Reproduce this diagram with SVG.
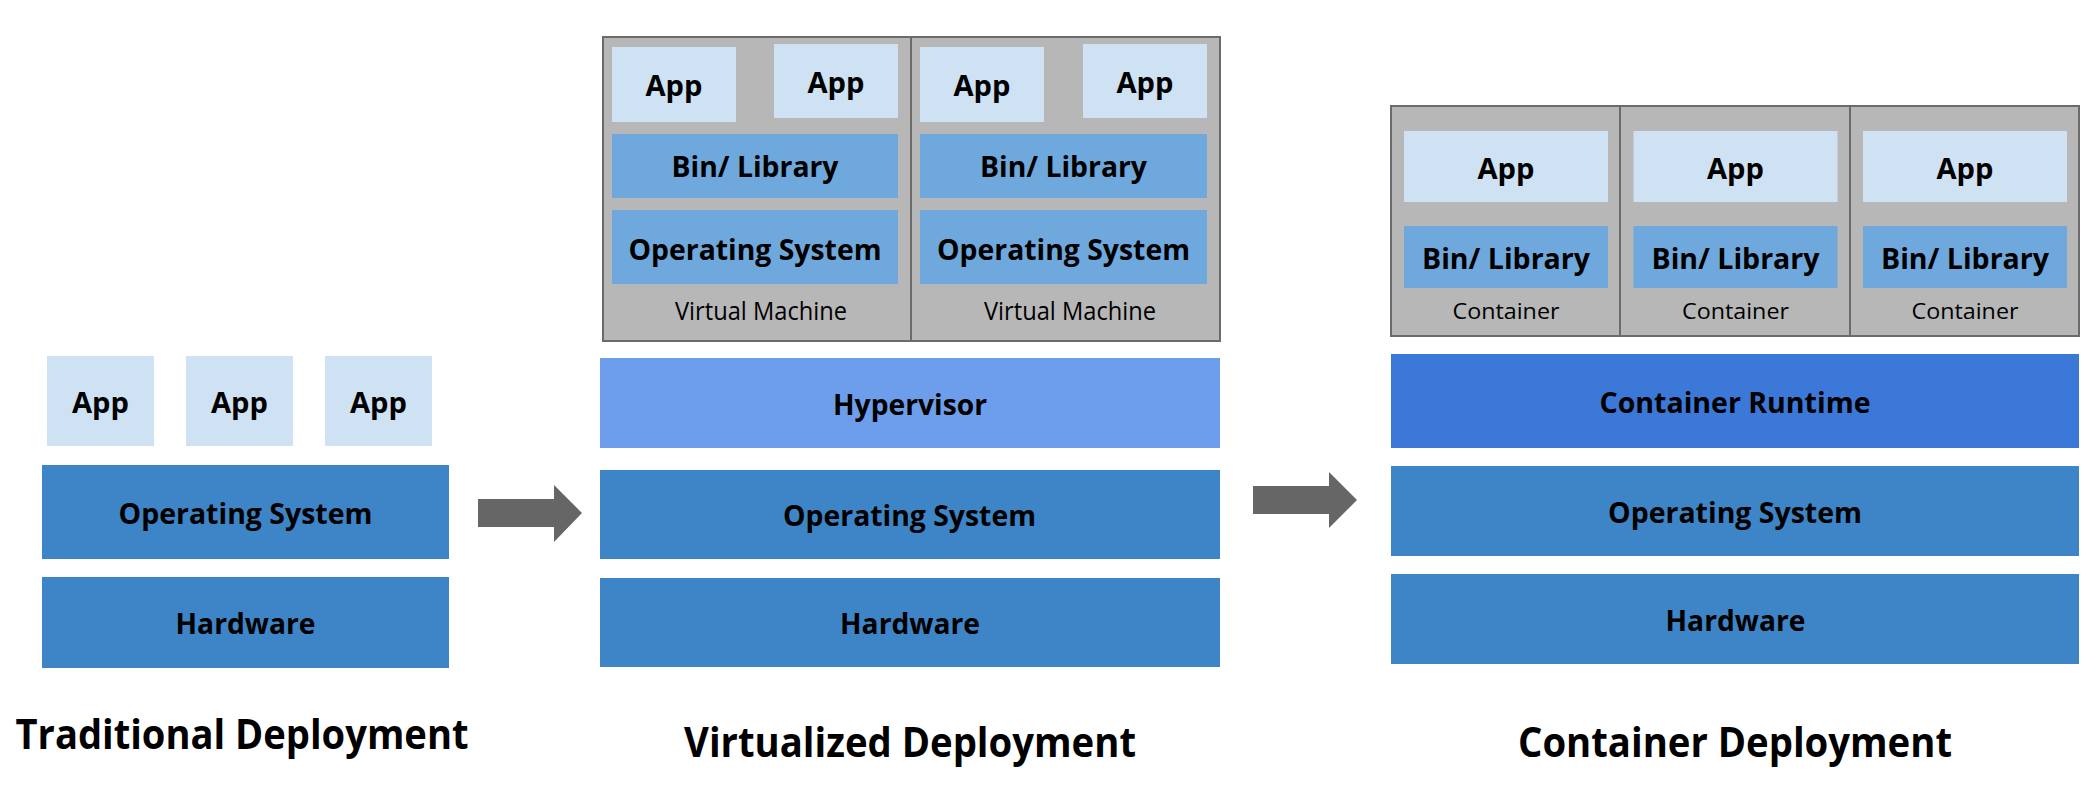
<svg xmlns="http://www.w3.org/2000/svg" width="2099" height="799" viewBox="0 0 2099 799">
<style>
text{font-family:"Open Sans","Noto Sans","Liberation Sans",sans-serif;fill:#000;text-anchor:middle}
.lbl{font-size:29px;font-weight:bold}
.cap{font-size:41px;font-weight:bold}
.sm{font-size:25px;font-weight:normal}
.app{fill:#cfe2f3}
.os{fill:#3d85c6}
.lib{fill:#6fa8dc}
.hyp{fill:#6d9eeb}
.rt{fill:#3c78d8}
.box{fill:#b7b7b7;stroke:#6b6b6b;stroke-width:2}
.arrow{fill:#666666}
</style>
<rect width="2099" height="799" fill="#ffffff"/>

<!-- Traditional Deployment -->
<g id="trad-app1"><rect class="app" x="47" y="356" width="107" height="90"/><text class="lbl" x="100.5" y="413" textLength="57" lengthAdjust="spacingAndGlyphs">App</text></g>
<g id="trad-app2"><rect class="app" x="186" y="356" width="107" height="90"/><text class="lbl" x="239.5" y="413" textLength="57" lengthAdjust="spacingAndGlyphs">App</text></g>
<g id="trad-app3"><rect class="app" x="325" y="356" width="107" height="90"/><text class="lbl" x="378.5" y="413" textLength="57" lengthAdjust="spacingAndGlyphs">App</text></g>
<g id="trad-os"><rect class="os" x="42" y="465" width="407" height="94"/><text class="lbl" x="245.5" y="524" textLength="254" lengthAdjust="spacingAndGlyphs">Operating System</text></g>
<g id="trad-hw"><rect class="os" x="42" y="577" width="407" height="91"/><text class="lbl" x="245.5" y="634" textLength="140" lengthAdjust="spacingAndGlyphs">Hardware</text></g>
<g id="trad-caption"><text class="cap" x="242" y="749" textLength="453" lengthAdjust="spacingAndGlyphs">Traditional Deployment</text></g>

<!-- Virtualized Deployment -->
<g id="vm1">
<rect class="box" x="603" y="37" width="308" height="304"/>
<rect class="app" x="612" y="47" width="124" height="75"/><text class="lbl" x="674" y="96" textLength="57" lengthAdjust="spacingAndGlyphs">App</text>
<rect class="app" x="774" y="44" width="124" height="74"/><text class="lbl" x="836" y="93" textLength="57" lengthAdjust="spacingAndGlyphs">App</text>
<rect class="lib" x="612" y="134" width="286" height="64"/><text class="lbl" x="755" y="177" textLength="167" lengthAdjust="spacingAndGlyphs">Bin/ Library</text>
<rect class="lib" x="612" y="210" width="286" height="74"/><text class="lbl" x="755" y="259.5" textLength="253" lengthAdjust="spacingAndGlyphs">Operating System</text>
<text class="sm" x="761" y="320" textLength="172" lengthAdjust="spacingAndGlyphs">Virtual Machine</text>
</g>
<g id="vm2">
<rect class="box" x="911" y="37" width="309" height="304"/>
<rect class="app" x="920" y="47" width="124" height="75"/><text class="lbl" x="982" y="96" textLength="57" lengthAdjust="spacingAndGlyphs">App</text>
<rect class="app" x="1083" y="44" width="124" height="74"/><text class="lbl" x="1145" y="93" textLength="57" lengthAdjust="spacingAndGlyphs">App</text>
<rect class="lib" x="920" y="134" width="287" height="64"/><text class="lbl" x="1063.5" y="177" textLength="167" lengthAdjust="spacingAndGlyphs">Bin/ Library</text>
<rect class="lib" x="920" y="210" width="287" height="74"/><text class="lbl" x="1063.5" y="259.5" textLength="253" lengthAdjust="spacingAndGlyphs">Operating System</text>
<text class="sm" x="1070" y="320" textLength="172" lengthAdjust="spacingAndGlyphs">Virtual Machine</text>
</g>
<g id="virt-hypervisor"><rect class="hyp" x="600" y="358" width="620" height="90"/><text class="lbl" x="910" y="415" textLength="154" lengthAdjust="spacingAndGlyphs">Hypervisor</text></g>
<g id="virt-os"><rect class="os" x="600" y="470" width="620" height="89"/><text class="lbl" x="909.5" y="526" textLength="253" lengthAdjust="spacingAndGlyphs">Operating System</text></g>
<g id="virt-hw"><rect class="os" x="600" y="578" width="620" height="89"/><text class="lbl" x="910" y="634" textLength="140" lengthAdjust="spacingAndGlyphs">Hardware</text></g>
<g id="virt-caption"><text class="cap" x="910" y="757" textLength="452" lengthAdjust="spacingAndGlyphs">Virtualized Deployment</text></g>

<!-- Container Deployment -->
<g id="ctr1">
<rect class="box" x="1391" y="106" width="229" height="230"/>
<rect class="app" x="1404" y="131" width="204" height="71"/><text class="lbl" x="1506" y="179" textLength="57" lengthAdjust="spacingAndGlyphs">App</text>
<rect class="lib" x="1404" y="226" width="204" height="62"/><text class="lbl" x="1506" y="269" textLength="168" lengthAdjust="spacingAndGlyphs">Bin/ Library</text>
<text class="sm" x="1506" y="319" font-size="22" style="font-size:22px" textLength="107" lengthAdjust="spacingAndGlyphs">Container</text>
</g>
<g id="ctr2">
<rect class="box" x="1620" y="106" width="230" height="230"/>
<rect class="app" x="1633.5" y="131" width="204" height="71"/><text class="lbl" x="1735.5" y="179" textLength="57" lengthAdjust="spacingAndGlyphs">App</text>
<rect class="lib" x="1633.5" y="226" width="204" height="62"/><text class="lbl" x="1735.5" y="269" textLength="168" lengthAdjust="spacingAndGlyphs">Bin/ Library</text>
<text class="sm" x="1735.5" y="319" style="font-size:22px" textLength="107" lengthAdjust="spacingAndGlyphs">Container</text>
</g>
<g id="ctr3">
<rect class="box" x="1850" y="106" width="229" height="230"/>
<rect class="app" x="1863" y="131" width="204" height="71"/><text class="lbl" x="1965" y="179" textLength="57" lengthAdjust="spacingAndGlyphs">App</text>
<rect class="lib" x="1863" y="226" width="204" height="62"/><text class="lbl" x="1965" y="269" textLength="168" lengthAdjust="spacingAndGlyphs">Bin/ Library</text>
<text class="sm" x="1965" y="319" style="font-size:22px" textLength="107" lengthAdjust="spacingAndGlyphs">Container</text>
</g>
<g id="ctr-runtime"><rect class="rt" x="1391" y="354" width="688" height="94"/><text class="lbl" x="1735" y="413" textLength="271" lengthAdjust="spacingAndGlyphs">Container Runtime</text></g>
<g id="ctr-os"><rect class="os" x="1391" y="466" width="688" height="90"/><text class="lbl" x="1735" y="523" textLength="254" lengthAdjust="spacingAndGlyphs">Operating System</text></g>
<g id="ctr-hw"><rect class="os" x="1391" y="574" width="688" height="90"/><text class="lbl" x="1735.5" y="631" textLength="140" lengthAdjust="spacingAndGlyphs">Hardware</text></g>
<g id="ctr-caption"><text class="cap" x="1735" y="757" textLength="434" lengthAdjust="spacingAndGlyphs">Container Deployment</text></g>

<!-- Connectors -->
<g id="connectors">
<polygon class="arrow" points="478,499 554,499 554,485 582,513 554,542 554,527 478,527"/>
<polygon class="arrow" points="1253,486 1329,486 1329,472 1357,500 1329,528 1329,514 1253,514"/>
</g>
</svg>
